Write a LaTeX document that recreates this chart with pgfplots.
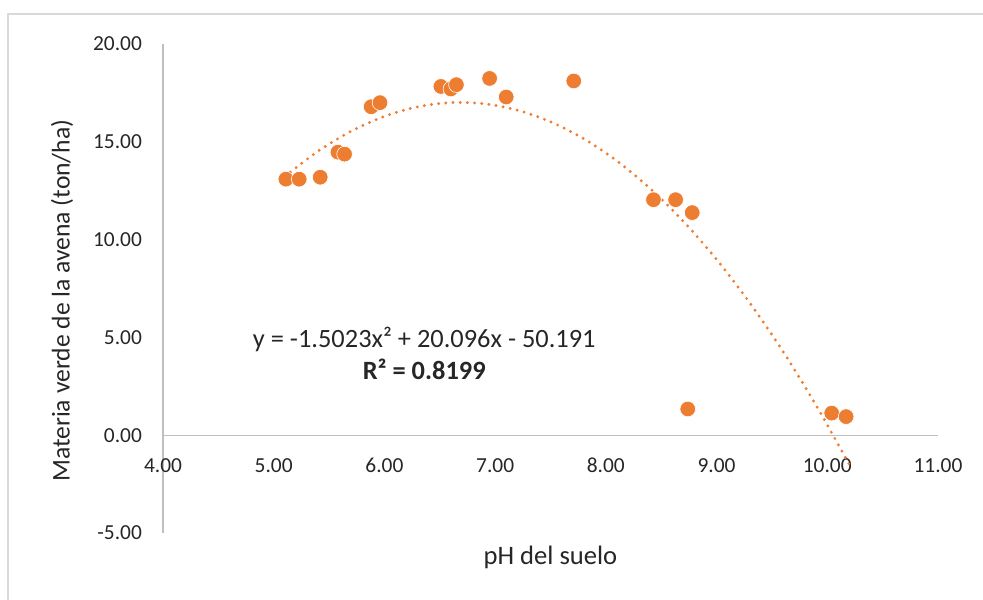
\documentclass[border=0pt]{standalone}
\usepackage{fontspec}
\setmainfont{Carlito}
\usepackage{pgfplots}
\pgfplotsset{compat=1.18}
\definecolor{excelorange}{HTML}{ED7D31}
\definecolor{axisgray}{HTML}{BFBFBF}
\definecolor{framegray}{HTML}{D9D9D9}
\begin{document}
\begin{tikzpicture}
\useasboundingbox (0,0) rectangle (491.5pt,-299.5pt);
\draw[framegray, line width=1pt] (3.75pt,-320pt) -- (3.75pt,-7pt) -- (520pt,-7pt);
\begin{axis}[
  at={(81.5pt,-266.5pt)}, anchor=south west,
  width=387.5pt, height=244.5pt, scale only axis,
  xmin=4, xmax=11, ymin=-5, ymax=20,
  axis x line=middle, axis y line=left,
  axis line style={-, draw=axisgray, line width=0.6pt},
  xtick={4,5,...,11}, ytick={-5,0,...,20},
  major tick length=0pt,
  hide obscured x ticks=false, hide obscured y ticks=false,
  /pgf/number format/fixed, /pgf/number format/fixed zerofill,
  /pgf/number format/precision=2, /pgf/number format/assume math mode=true,
  ticklabel style={font=\fontsize{10.7}{12}\selectfont, text=black!85},
  xticklabel style={anchor=north, yshift=-8pt},
  yticklabel style={anchor=east, xshift=-7pt},
  xlabel={pH del suelo},
  ylabel={Materia verde de la avena (ton/ha)},
  xlabel style={font=\fontsize{13.3}{15}\selectfont, text=black!85,
    at={(axis description cs:0.5,0)}, anchor=center, yshift=-12pt},
  ylabel style={font=\fontsize{12.8}{14}\selectfont, text=black!85,
    at={(axis description cs:-0.1303,0.475)}, anchor=center},
  clip=false,
]
\addplot[only marks, mark=*, mark size=3.9pt,
  mark options={fill=excelorange, draw=white, line width=0.3pt}] table {
x y
5.11 13.09
5.23 13.09
5.42 13.19
5.58 14.47
5.64 14.37
5.88 16.79
5.96 17.00
6.51 17.83
6.60 17.70
6.65 17.92
6.95 18.24
7.10 17.29
7.71 18.11
8.43 12.04
8.63 12.04
8.78 11.38
8.74 1.34
10.04 1.13
10.17 0.95
};
\addplot[excelorange, line width=1.6pt, line cap=round, dash pattern=on 0pt off 3.6pt, smooth] table {
x y
5.1 13.224
5.4 14.520
5.7 15.546
6.0 16.302
6.3 16.788
6.6 17.003
6.9 16.946
7.2 16.621
7.5 16.025
7.8 15.158
8.1 14.021
8.4 12.613
8.7 10.935
9.0 8.987
9.3 6.768
9.6 4.279
9.9 1.519
10.2 -1.511
};
\node[align=center, font=\fontsize{13.2}{16}\selectfont, text=black!85] at (axis cs:6.36,4.17)
  {y = -1.5023x² + 20.096x - 50.191\\\textbf{R² = 0.8199}};
\end{axis}
\end{tikzpicture}
\end{document}
